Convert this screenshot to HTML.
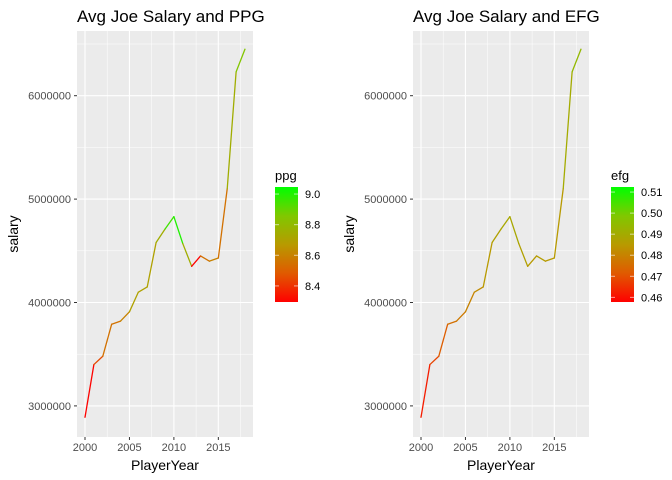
<!DOCTYPE html>
<html><head><meta charset="utf-8"><style>
body{margin:0;background:#fff}
svg{display:block;font-family:"Liberation Sans",Arial,sans-serif}
</style></head><body>
<svg id="c" width="672" height="480" xmlns="http://www.w3.org/2000/svg">
<defs>
<linearGradient id="lg" x1="0" y1="1" x2="0" y2="0">
<stop offset="0" stop-color="#FF0000"/><stop offset="0.25" stop-color="#E05A00"/><stop offset="0.5" stop-color="#B89A00"/><stop offset="0.75" stop-color="#80C800"/><stop offset="1" stop-color="#00FF00"/>
</linearGradient>
</defs>
</svg>
<script>
const years=[2000,2001,2002,2003,2004,2005,2006,2007,2008,2009,2010,2011,2012,2013,2014,2015,2016,2017,2018];
const salary=[2890000,3400000,3480000,3790000,3820000,3910000,4100000,4150000,4580000,4710000,4830000,4570000,4350000,4450000,4400000,4430000,5100000,6230000,6450000];
const ppg=[8.3,8.45,8.55,8.55,8.6,8.7,8.7,8.7,8.75,8.95,9.0,8.75,8.3,8.55,8.6,8.55,8.75,8.85,9.0];
const efg=[0.462,0.468,0.472,0.476,0.478,0.48,0.482,0.485,0.487,0.489,0.489,0.487,0.485,0.486,0.485,0.485,0.49,0.494,0.497];
const xTicks=[2000,2005,2010,2015];
const yTicks=[3000000,4000000,5000000,6000000];
const ppgTicks=[8.4,8.6,8.8,9.0];
const efgTicks=[0.46,0.47,0.48,0.49,0.50,0.51];
const NS="http://www.w3.org/2000/svg";
const svg=document.getElementById('c');
function mk(t,a,p){const e=document.createElementNS(NS,t);for(const k in a)e.setAttribute(k,a[k]);(p||svg).appendChild(e);return e;}
const stops=[[0,[255,0,0]],[0.25,[224,90,0]],[0.5,[184,154,0]],[0.75,[128,200,0]],[1,[0,255,0]]];
function col(t){t=Math.max(0,Math.min(1,t));for(let i=1;i<stops.length;i++){if(t<=stops[i][0]){const a=stops[i-1],b=stops[i];const f=(t-a[0])/(b[0]-a[0]);const c=a[1].map((v,j)=>Math.round(v+(b[1][j]-v)*f));return `rgb(${c})`;}}return 'rgb(0,255,0)';}
function panel(off,title,cvals,cmin,cmax,ctitle,cticks,fmt,key){
  const L=77+off,R=253+off,T=31,B=437;
  const x=v=>85+off+(v-2000)*(160/18);
  const y=v=>95.7+(6000000-v)/1000000*103.4;
  const g=mk('g',{});
  
  
  mk('rect',{x:L,y:T,width:R-L,height:B-T,fill:'#EBEBEB'},g);
  for(let i=0;i<xTicks.length;i++){const m=xTicks[i]+2.5;if(x(m)<R)mk('line',{x1:x(m),x2:x(m),y1:T,y2:B,stroke:'#fff','stroke-width':0.5},g);}
  mk('line',{x1:x(1997.5),x2:x(1997.5),y1:T,y2:B,stroke:'#fff','stroke-width':0},g);
  for(let i=0;i<yTicks.length;i++){const m=yTicks[i]+500000;if(y(m)>T)mk('line',{x1:L,x2:R,y1:y(m),y2:y(m),stroke:'#fff','stroke-width':0.5},g);}
  if(y(2500000)<B)mk('line',{x1:L,x2:R,y1:y(2500000),y2:y(2500000),stroke:'#fff','stroke-width':0.5},g);
  xTicks.forEach(v=>{mk('line',{x1:x(v),x2:x(v),y1:T,y2:B,stroke:'#fff','stroke-width':1.1},g);
    mk('line',{x1:x(v),x2:x(v),y1:B,y2:B+3,stroke:'#333'},g);
    const t=mk('text',{x:x(v),y:B+14,'font-size':11,fill:'#4D4D4D','text-anchor':'middle'},g);t.textContent=v;
    });
  yTicks.forEach(v=>{mk('line',{x1:L,x2:R,y1:y(v),y2:y(v),stroke:'#fff','stroke-width':1.1},g);
    mk('line',{x1:L-3,x2:L,y1:y(v),y2:y(v),stroke:'#333'},g);
    const t=mk('text',{x:L-6,y:y(v)+4,'font-size':11,fill:'#4D4D4D','text-anchor':'end'},g);t.textContent=v;
    });
  for(let i=0;i<years.length-1;i++){
    const s=mk('line',{x1:x(years[i]),y1:y(salary[i]),x2:x(years[i+1]),y2:y(salary[i+1]),stroke:col((cvals[i]-cmin)/(cmax-cmin)),'stroke-width':1.3,'stroke-linecap':'round'},g);
    
  }
  let t=mk('text',{x:L,y:22,'font-size':17,fill:'#000'},g);t.textContent=title;
  
  t=mk('text',{x:(L+R)/2,y:470,'font-size':14,fill:'#000','text-anchor':'middle'},g);t.textContent='PlayerYear';
  
  t=mk('text',{x:0,y:0,'font-size':14,fill:'#000','text-anchor':'middle',transform:`translate(${18+off},${(T+B)/2}) rotate(-90)`},g);t.textContent='salary';
  
  // legend
  const lx=275+off,lt=187,lb=302;
  const ly=v=>lb-(v-cmin)/(cmax-cmin)*(lb-lt);
  t=mk('text',{x:lx,y:180,'font-size':13,fill:'#000'},g);t.textContent=ctitle;
  
  const r=mk('rect',{x:lx,y:lt,width:23,height:lb-lt,fill:'url(#lg)'},g);
  
  cticks.forEach(v=>{const yy=ly(v);
    mk('line',{x1:lx,x2:lx+4,y1:yy,y2:yy,stroke:'#fff','stroke-opacity':0.6},g);
    mk('line',{x1:lx+19,x2:lx+23,y1:yy,y2:yy,stroke:'#fff','stroke-opacity':0.6},g);
    const tt=mk('text',{x:lx+30,y:yy+4,'font-size':11,fill:'#000'},g);tt.textContent=fmt(v);
    });
}
panel(0,'Avg Joe Salary and PPG',ppg,8.295,9.046,'ppg',ppgTicks,v=>v.toFixed(1),'ppg');
panel(336,'Avg Joe Salary and EFG',efg,0.4578,0.5124,'efg',efgTicks,v=>v.toFixed(2),'efg');
</script>
</body></html>
